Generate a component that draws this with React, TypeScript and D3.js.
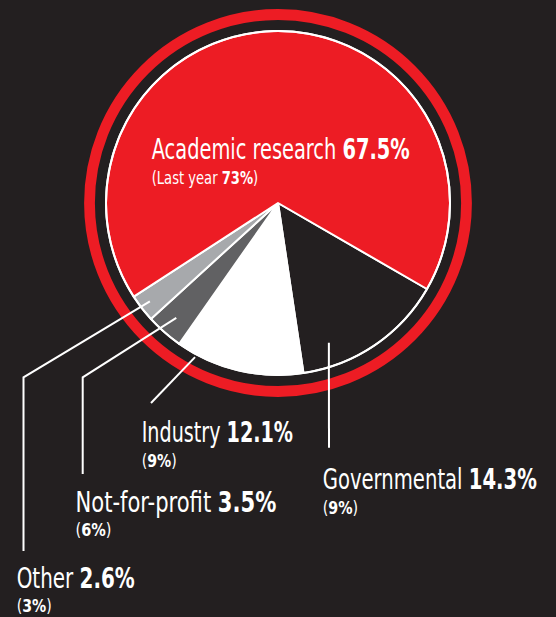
import React, { useLayoutEffect, useRef, useState } from "react";
import * as d3 from "d3";

// ---- data ----
const categories = ["Governmental", "Industry", "Not-for-profit", "Other", "Academic research"];
const shares = [14.3, 12.1, 3.5, 2.6, 67.5];
const lastYear = ["9%", "9%", "6%", "3%", "73%"];
const sliceColors = ["#231f20", "#ffffff", "#616163", "#a7a9ac", "#ed1c24"];

// ---- layout ----
const W = 556;
const H = 617;
const CX = 278;
const CY = 203;
const R = 172;
const RING_R = 188.5;
const BG = "#231f20";
const FONT = "'Liberation Sans Narrow', 'DejaVu Sans Condensed', 'Arial Narrow', sans-serif";

// label placement (x, baseline y, fitted widths of the two lines)
const labelPos = [
  { x: 322.7, y: 489.3, w: 214.5, w2: 35.5, prefix: "" },
  { x: 141.7, y: 442.3, w: 151.6, w2: 35, prefix: "" },
  { x: 75.5, y: 511.7, w: 201.1, w2: 36, prefix: "" },
  { x: 16.7, y: 587.7, w: 118.3, w2: 35, prefix: "" },
  { x: 151.7, y: 159.3, w: 258.3, w2: 106.6, prefix: "Last year " },
];
// leader: angle (deg, clockwise from 12 o'clock), radius, then following points
const leaders: ({ a: number; r: number; pts: [number, number][] } | null)[] = [
  { a: 160, r: 148.7, pts: [[329, 447.7]] },
  { a: 208.3, r: 175, pts: [[151, 403]] },
  { a: 221.5, r: 153.5, pts: [[82.7, 377.3], [82.7, 474]] },
  { a: 232.5, r: 161.5, pts: [[23.5, 377.3], [23.5, 551]] },
  null,
];

const deg = Math.PI / 180;

export default function App() {
  const refs = useRef<(SVGTextElement | null)[]>([]);
  const [scales, setScales] = useState<number[] | null>(null);

  useLayoutEffect(() => {
    if (scales) return;
    const s = refs.current.map((el, k) => {
      if (!el) return 1;
      const p = labelPos[Math.floor(k / 2)];
      const target = k % 2 === 0 ? p.w : p.w2;
      const wd = el.getBBox().width;
      return wd > 0 ? target / wd : 1;
    });
    setScales(s);
  }, [scales]);

  const pie = d3
    .pie<number>()
    .sort(null)
    .value((d) => d)
    .startAngle(120 * deg)
    .endAngle(480 * deg);
  const arcs = pie(shares);
  const arc = d3.arc<d3.PieArcDatum<number>>().innerRadius(0).outerRadius(R);
  const line = d3.line();

  return (
    <svg
      width={W}
      height={H}
      style={{ position: "absolute", left: 0, top: 0, display: "block" }}
    >
      <rect width={W} height={H} fill={BG} />
      <g transform={`translate(${CX},${CY})`}>
        {arcs.map((a, i) => (
          <path
            key={categories[i]}
            d={arc(a) || ""}
            fill={sliceColors[i]}
            stroke="#ffffff"
            strokeWidth={2}
            strokeLinejoin="round"
          />
        ))}
        <circle r={R} fill="none" stroke="#ffffff" strokeWidth={2} />
        <circle r={RING_R} fill="none" stroke="#ed1c24" strokeWidth={10.8} />
      </g>
      {leaders.map((l, i) => {
        if (!l) return null;
        const ang = l.a * deg;
        const start: [number, number] = [CX + l.r * Math.sin(ang), CY - l.r * Math.cos(ang)];
        return (
          <path
            key={"l" + i}
            d={line([start, ...l.pts]) || ""}
            fill="none"
            stroke="#ffffff"
            strokeWidth={2}
          />
        );
      })}
      {categories.map((c, i) => {
        const p = labelPos[i];
        const s1 = scales ? scales[2 * i] : 1;
        const s2 = scales ? scales[2 * i + 1] : 1;
        return (
          <g key={"t" + c} fill="#ffffff" fontFamily={FONT}>
            <g transform={`translate(${p.x},${p.y}) scale(${s1},1)`}>
              <text
                ref={(el) => {
                  refs.current[2 * i] = el;
                }}
                x={0}
                y={0}
                fontSize={27.5}
              >
                <tspan fontWeight={300}>{c} </tspan>
                <tspan fontWeight={700}>{shares[i].toFixed(1)}%</tspan>
              </text>
            </g>
            <g transform={`translate(${p.x},${p.y + 24.5}) scale(${s2},1)`}>
              <text
                ref={(el) => {
                  refs.current[2 * i + 1] = el;
                }}
                x={0}
                y={0}
                fontSize={18.5}
              >
                <tspan fontWeight={300}>({p.prefix}</tspan>
                <tspan fontWeight={700}>{lastYear[i]}</tspan>
                <tspan fontWeight={300}>)</tspan>
              </text>
            </g>
          </g>
        );
      })}
    </svg>
  );
}
